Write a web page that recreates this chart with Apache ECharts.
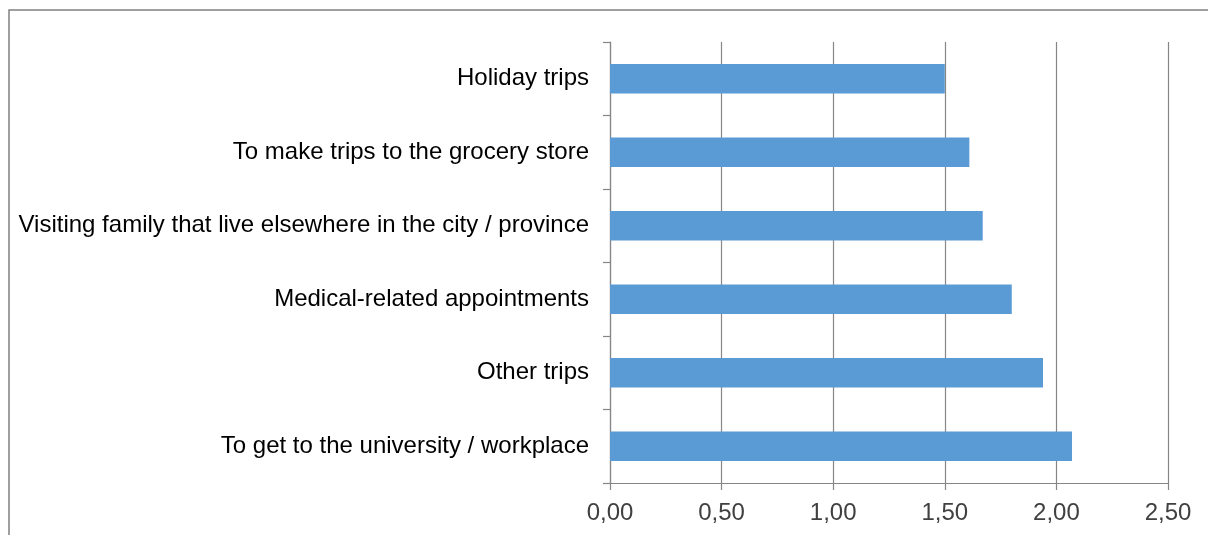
<!DOCTYPE html>
<html>
<head>
<meta charset="utf-8">
<script src="https://cdn.jsdelivr.net/npm/echarts@6/dist/echarts.min.js"></script>
<style>
  html, body { margin: 0; padding: 0; background: #fff; }
  #chart { width: 1208px; height: 535px; }
</style>
</head>
<body>
<div id="chart"></div>
<script>
// Trip purposes, listed top to bottom
const categories = [
  'Holiday trips',
  'To make trips to the grocery store',
  'Visiting family that live elsewhere in the city / province',
  'Medical-related appointments',
  'Other trips',
  'To get to the university / workplace'
];
// Mean score per purpose
const values = [1.50, 1.61, 1.67, 1.80, 1.94, 2.07];
// Value axis range
const axisMin = 0;
const axisMax = 2.5;
const axisStep = 0.5;

const chart = echarts.init(document.getElementById('chart'), null, { renderer: 'canvas' });
const font = 'Liberation Sans, Arial, sans-serif';
const lineGray = '#868686';

chart.setOption({
  animation: false,
  backgroundColor: '#ffffff',
  graphic: [{
    type: 'rect',
    shape: { x: 9, y: 10, width: 1400, height: 800 },
    style: { fill: 'none', stroke: '#808080', lineWidth: 1.5 },
    silent: true
  }],
  grid: { left: 610, right: 40, top: 42, bottom: 52, containLabel: false },
  xAxis: {
    type: 'value',
    min: axisMin,
    max: axisMax,
    interval: axisStep,
    axisLine: { show: true, lineStyle: { color: lineGray, width: 1.2 } },
    axisTick: { show: true, length: 7, lineStyle: { color: lineGray, width: 1.2 } },
    splitLine: { show: true, lineStyle: { color: lineGray, width: 1.2 } },
    axisLabel: {
      margin: 18,
      color: '#404040',
      fontFamily: font,
      fontSize: 24,
      formatter: v => v.toFixed(2).replace('.', ',')
    }
  },
  yAxis: {
    type: 'category',
    data: categories,
    inverse: true,
    axisLine: { show: true, lineStyle: { color: lineGray, width: 1.2 } },
    axisTick: { show: true, length: 7, lineStyle: { color: lineGray, width: 1.2 } },
    splitLine: { show: false },
    axisLabel: {
      margin: 21,
      color: '#000000',
      fontFamily: font,
      fontSize: 24
    }
  },
  series: [{
    type: 'bar',
    data: values,
    barWidth: '40%',
    itemStyle: { color: '#5B9BD5' }
  }]
});
</script>
</body>
</html>
